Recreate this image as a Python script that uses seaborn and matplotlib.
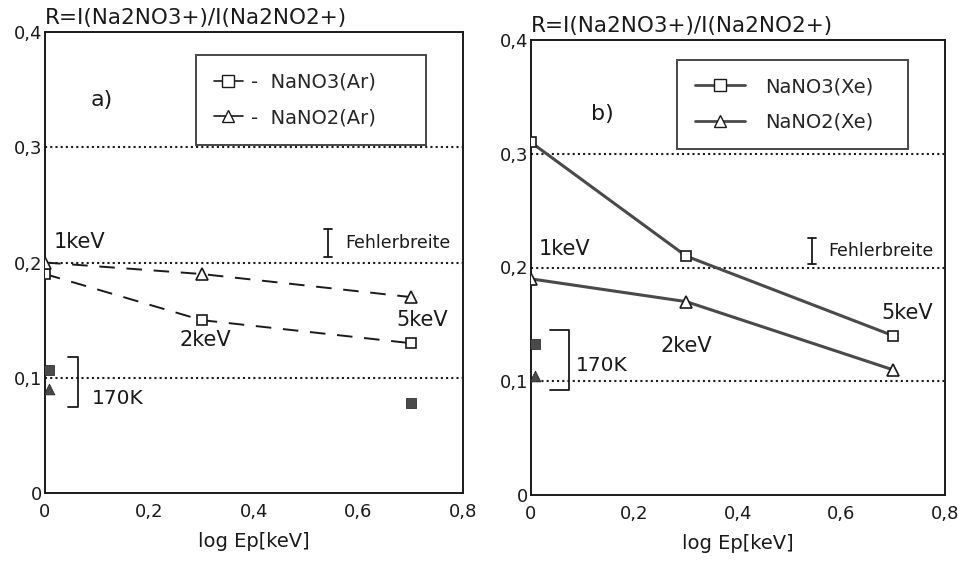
import matplotlib
matplotlib.use("Agg")
import matplotlib.pyplot as plt
import seaborn as sns
from matplotlib.lines import Line2D

sns.set_theme(style="white")
plt.rcParams["font.family"] = ["DejaVu Sans"]

# ---- data ----
log_ep = [0.0, 0.3, 0.7]
energy_labels = ["1keV", "2keV", "5keV"]

ar_nano3 = [0.19, 0.15, 0.13]
ar_nano2 = [0.20, 0.19, 0.17]
xe_nano3 = [0.31, 0.21, 0.14]
xe_nano2 = [0.19, 0.17, 0.11]

# 170K points (filled markers)
ar_cold_nano3_x = [0.008, 0.7]
ar_cold_nano3_y = [0.107, 0.078]
ar_cold_nano2_x = [0.008]
ar_cold_nano2_y = [0.090]
xe_cold_nano3_x = [0.008]
xe_cold_nano3_y = [0.133]
xe_cold_nano2_x = [0.008]
xe_cold_nano2_y = [0.105]

x_ticks = [0, 0.2, 0.4, 0.6, 0.8]
x_tick_labels = ["0", "0,2", "0,4", "0,6", "0,8"]
y_ticks = [0, 0.1, 0.2, 0.3, 0.4]
y_tick_labels = ["0", "0,1", "0,2", "0,3", "0,4"]
grid_levels = [0.1, 0.2, 0.3]

y_title = "R=I(Na2NO3+)/I(Na2NO2+)"
x_title = "log Ep[keV]"
legend_ar = ["-  NaNO3(Ar)", "-  NaNO2(Ar)"]
legend_xe = ["NaNO3(Xe)", "NaNO2(Xe)"]

fig = plt.figure(figsize=(9.62, 5.69), dpi=100)
axL = fig.add_axes([45 / 962, 1 - 493 / 569, (463 - 45) / 962, (493 - 32) / 569])
axR = fig.add_axes([531 / 962, 1 - 495 / 569, (945 - 531) / 962, (495 - 40) / 569])

INK = "#1a1a1a"
GRAY = "#4a4a4a"


def style_axes(ax):
    ax.set_xlim(0, 0.8)
    ax.set_ylim(0, 0.4)
    ax.set_xticks(x_ticks)
    ax.set_xticklabels(x_tick_labels, fontsize=13, color=INK)
    ax.set_yticks(y_ticks)
    ax.set_yticklabels(y_tick_labels, fontsize=13, color=INK)
    ax.tick_params(direction="in", length=5, width=1, colors=INK, pad=7,
                   labelcolor=INK)
    ax.tick_params(axis="y", pad=2)
    for s in ax.spines.values():
        s.set_color(INK)
        s.set_linewidth(1.4)
        s.set_visible(True)
    for g in grid_levels:
        ax.axhline(g, color=INK, linestyle=(0, (1, 1.5)), linewidth=1.5, zorder=1)
    ax.set_xlabel(x_title, fontsize=14, color=INK, labelpad=8)
    ax.set_ylabel("")
    ax.text(0.0, 1.008, y_title, transform=ax.transAxes, fontsize=15.5,
            color=INK, ha="left", va="bottom")


def error_bar(ax, x, y0, y1, label):
    ax.plot([x, x], [y0, y1], color=INK, lw=1.3)
    ax.plot([x - 0.008, x + 0.008], [y0, y0], color=INK, lw=1.3)
    ax.plot([x - 0.008, x + 0.008], [y1, y1], color=INK, lw=1.3)
    ax.text(x + 0.032, (y0 + y1) / 2, label, fontsize=12.5, color=INK,
            va="center", ha="left")


def bracket(ax, x, x_tip, y0, y1, label, lx, ly):
    ax.plot([x_tip, x, x, x_tip], [y1, y1, y0, y0], color=INK, lw=1.3)
    ax.text(lx, ly, label, fontsize=14.5, color=INK, va="center", ha="left")


# ---- left panel (Ar) ----
sns.lineplot(x=log_ep, y=ar_nano3, ax=axL, color=INK, lw=1.4,
             linestyle=(0, (8, 6)), marker="s", markersize=7,
             markerfacecolor="white", markeredgecolor=INK, markeredgewidth=1.2,
             zorder=3)
sns.lineplot(x=log_ep, y=ar_nano2, ax=axL, color=INK, lw=1.4,
             linestyle=(0, (8, 6)), marker="^", markersize=8,
             markerfacecolor="white", markeredgecolor=INK, markeredgewidth=1.2,
             zorder=3)
sns.scatterplot(x=ar_cold_nano3_x, y=ar_cold_nano3_y, ax=axL, marker="s", s=60,
                color=GRAY, edgecolor=INK, linewidth=0.5, zorder=4)
sns.scatterplot(x=ar_cold_nano2_x, y=ar_cold_nano2_y, ax=axL, marker="^", s=60,
                color=GRAY, edgecolor=INK, linewidth=0.5, zorder=4)
style_axes(axL)
axL.text(0.109, 0.341, "a)", fontsize=16, color=INK, ha="center", va="center")
axL.text(0.017, 0.218, energy_labels[0], fontsize=15, color=INK, va="center")
axL.text(0.306, 0.133, energy_labels[1], fontsize=15, color=INK, va="center", ha="center")
axL.text(0.722, 0.150, energy_labels[2], fontsize=15, color=INK, va="center", ha="center")
error_bar(axL, 0.542, 0.205, 0.229, "Fehlerbreite")
bracket(axL, 0.063, 0.044, 0.075, 0.118, "170K", 0.09, 0.082)

hL = [Line2D([], [], color=INK, lw=1.2, marker="s", markersize=8,
             markerfacecolor="white", markeredgecolor=INK),
      Line2D([], [], color=INK, lw=1.2, marker="^", markersize=8,
             markerfacecolor="white", markeredgecolor=INK)]
legL = axL.legend(hL, legend_ar, loc="upper left",
                  bbox_to_anchor=(0.362, 0.735, 0.55, 0.215), mode="expand",
                  fontsize=14, frameon=True, fancybox=False, handlelength=1.5,
                  labelspacing=0.85, borderpad=0.9, handletextpad=0.4,
                  borderaxespad=0.0)
legL.get_frame().set_edgecolor(INK)
legL.get_frame().set_linewidth(1.4)
legL.set_zorder(5)

# ---- right panel (Xe) ----
sns.lineplot(x=log_ep, y=xe_nano3, ax=axR, color=GRAY, lw=2.2,
             marker="s", markersize=7, markerfacecolor="white",
             markeredgecolor=INK, markeredgewidth=1.2, zorder=3)
sns.lineplot(x=log_ep, y=xe_nano2, ax=axR, color=GRAY, lw=2.2,
             marker="^", markersize=8, markerfacecolor="white",
             markeredgecolor=INK, markeredgewidth=1.2, zorder=3)
sns.scatterplot(x=xe_cold_nano3_x, y=xe_cold_nano3_y, ax=axR, marker="s", s=55,
                color=GRAY, edgecolor=INK, linewidth=0.5, zorder=4)
sns.scatterplot(x=xe_cold_nano2_x, y=xe_cold_nano2_y, ax=axR, marker="^", s=60,
                color=GRAY, edgecolor=INK, linewidth=0.5, zorder=4)
style_axes(axR)
axR.text(0.137, 0.335, "b)", fontsize=16, color=INK, ha="center", va="center")
axR.text(0.014, 0.216, energy_labels[0], fontsize=15, color=INK, va="center")
axR.text(0.30, 0.131, energy_labels[1], fontsize=15, color=INK, va="center", ha="center")
axR.text(0.727, 0.160, energy_labels[2], fontsize=15, color=INK, va="center", ha="center")
error_bar(axR, 0.543, 0.203, 0.226, "Fehlerbreite")
bracket(axR, 0.073, 0.037, 0.092, 0.145, "170K", 0.087, 0.114)

hR = [Line2D([], [], color=GRAY, lw=2, marker="s", markersize=8,
             markerfacecolor="white", markeredgecolor=INK),
      Line2D([], [], color=GRAY, lw=2, marker="^", markersize=8,
             markerfacecolor="white", markeredgecolor=INK)]
legR = axR.legend(hR, legend_xe, loc="upper left",
                  bbox_to_anchor=(0.353, 0.737, 0.557, 0.22), mode="expand",
                  fontsize=14, frameon=True, fancybox=False, handlelength=2.6,
                  labelspacing=0.85, borderpad=0.9, handletextpad=1.0,
                  borderaxespad=0.0)
legR.get_frame().set_edgecolor(INK)
legR.get_frame().set_linewidth(1.4)
legR.set_zorder(5)

fig.savefig("out.png", dpi=100, facecolor="white")
